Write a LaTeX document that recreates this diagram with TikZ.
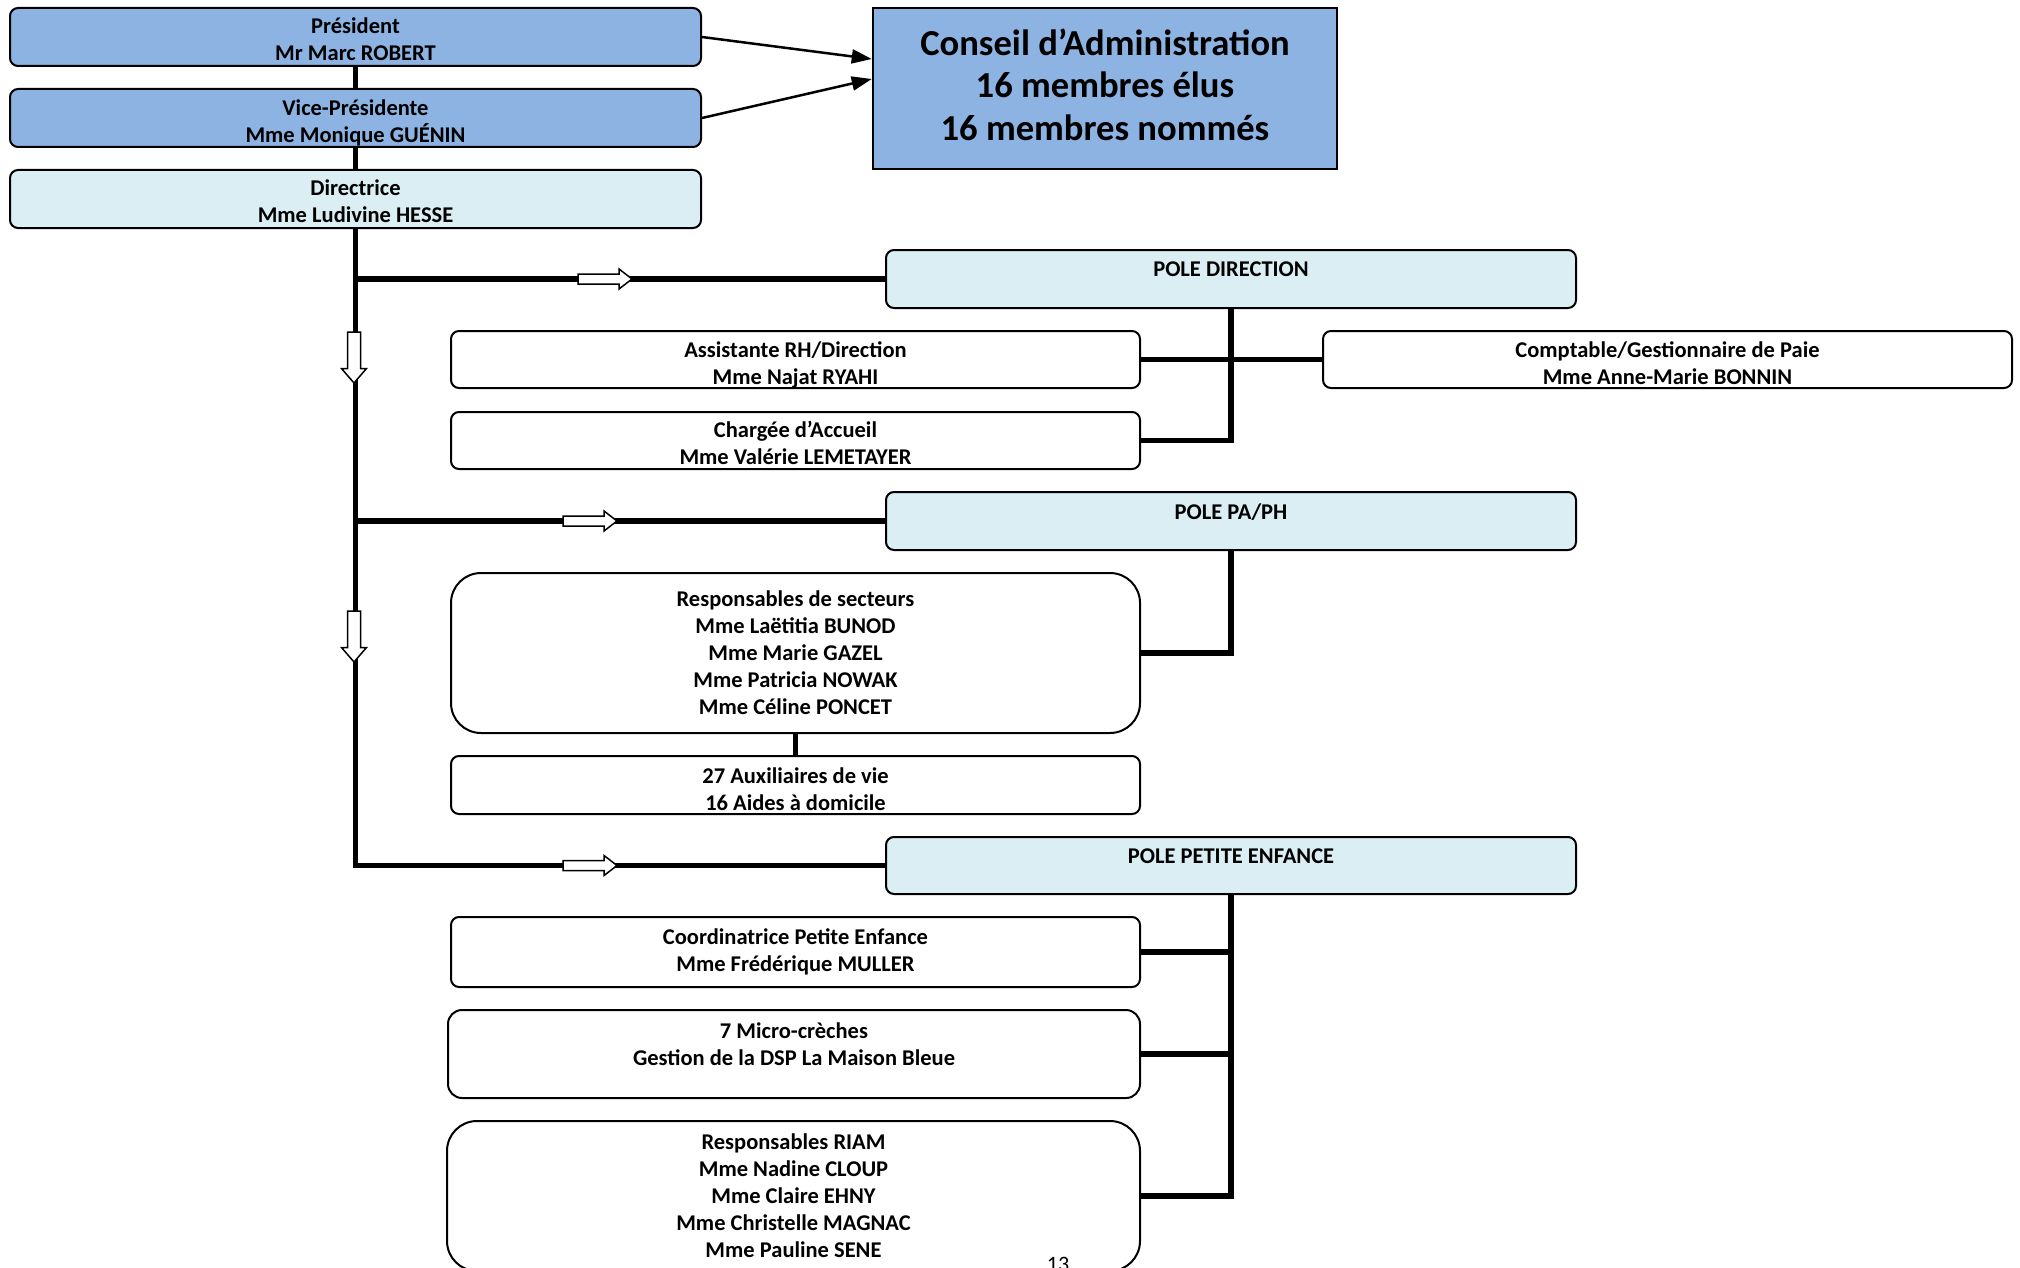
\documentclass[tikz,border=0pt]{standalone}
\usepackage{fontspec}
\setmainfont{Carlito}
\usetikzlibrary{arrows.meta,calc}
\definecolor{presblue}{RGB}{141,179,226}
\definecolor{paleblue}{RGB}{219,238,244}
\begin{document}
\begin{tikzpicture}[x=1pt,y=-1pt,
  box/.style={draw, line width=2pt, rounded corners=8pt, inner sep=0pt, align=center,
    font=\fontsize{22.5}{27}\selectfont\bfseries, minimum width=689pt, minimum height=58pt},
  topbox/.style={box, fill=presblue},
  polebox/.style={box, fill=paleblue, minimum width=690pt},
  poletext/.style={inner sep=0pt, font=\fontsize{22.5}{27}\selectfont\bfseries},
  boxtext/.style={inner sep=0pt, align=center, font=\fontsize{22.5}{27}\selectfont\bfseries},
  trunk/.style={line width=5.5pt},
  harrow/.pic={\draw[line width=1.5pt, fill=white, line join=miter]
    (-27,-5) -- (14,-5) -- (14,-10) -- (27,0) -- (14,10) -- (14,5) -- (-27,5) -- cycle;},
  varrow/.pic={\draw[line width=1.5pt, fill=white, line join=miter]
    (-6.5,-25.5) -- (6.5,-25.5) -- (6.5,11) -- (12.5,11) -- (0,25.5) -- (-12.5,11) -- (-6.5,11) -- cycle;}
]
\useasboundingbox (0,0) rectangle (2020,1268);

% top boxes
\node[topbox, minimum width=691pt] (pres) at (355.5,37) {};
\node[boxtext] (prest) at ([yshift=-2.5pt]pres.center) {Président\\Mr Marc ROBERT};
\node[topbox, minimum width=691pt] (vice) at (355.5,118) {};
\node[boxtext] (vicet) at ([yshift=-5pt]vice.center) {Vice-Présidente\\Mme Monique GUÉNIN};
\node[box, fill=paleblue, minimum width=691pt] (dir) at (355.5,199) {};
\node[boxtext] (dirt) at ([yshift=-2.5pt]dir.center) {Directrice\\Mme Ludivine HESSE};
\node[draw, line width=2.5pt, fill=presblue, inner sep=0pt, align=center,
  minimum width=464pt, minimum height=161pt,
  font=\fontsize{36.6}{42.5}\selectfont\bfseries,
  execute at end node={\rule[-8pt]{0pt}{0pt}}] (cons) at (1105,88.5)
  {Conseil d’Administration\\16 membres élus\\16 membres nommés};

% poles
\node[polebox] (pd) at (1231,279) {};
\node[poletext] (pdt) at ([yshift=-20.5pt]pd.north) {POLE DIRECTION};
\node[polebox] (pp) at (1231,521) {};
\node[poletext] (ppt) at ([yshift=-21.5pt]pp.north) {POLE PA/PH};
\node[polebox, minimum height=57pt] (ppe) at (1231,865.5) {};
\node[poletext] (ppet) at ([yshift=-20.5pt]ppe.north) {POLE PETITE ENFANCE};

% pole direction staff
\node[box, minimum height=57pt] (ar) at (795.5,359.5) {};
\node[boxtext] (art) at ([yshift=-5pt]ar.center) {Assistante RH/Direction\\Mme Najat RYAHI};
\node[box, minimum height=57pt] (ca) at (795.5,440.5) {};
\node[boxtext] (cat) at ([yshift=-2.5pt]ca.center) {Chargée d’Accueil\\Mme Valérie LEMETAYER};
\node[box, minimum height=57pt] (cg) at (1667.5,359.5) {};
\node[boxtext] (cgt) at ([yshift=-4pt]cg.center) {Comptable/Gestionnaire de Paie\\Mme Anne-Marie BONNIN};

% PA/PH staff
\node[box, rounded corners=30pt, minimum height=160pt] (rs) at (795.5,653)
  {Responsables de secteurs\\Mme Laëtitia BUNOD\\Mme Marie GAZEL\\Mme Patricia NOWAK\\Mme Céline PONCET};
\node[box] (aux) at (795.5,785) {};
\node[boxtext] (auxt) at ([yshift=-4pt]aux.center) {27 Auxiliaires de vie\\16 Aides à domicile};

% petite enfance staff
\node[box, minimum height=70pt] (coord) at (795.5,952) {Coordinatrice Petite Enfance\\Mme Frédérique MULLER};
\node[box, rounded corners=14pt, minimum width=692pt, minimum height=88pt] (micro) at (794,1054) {};
\node[boxtext] (microt) at ([yshift=9.5pt]micro.center) {7 Micro-crèches\\Gestion de la DSP La Maison Bleue};
\node[box, rounded corners=30pt, minimum width=693pt, minimum height=150pt] (riam) at (793.5,1196)
  {Responsables RIAM\\Mme Nadine CLOUP\\Mme Claire EHNY\\Mme Christelle MAGNAC\\Mme Pauline SENE};

% page number
\node[font=\fontsize{22}{26}\selectfont, anchor=base, inner sep=0pt] (pg) at (1058,1271) {13};

% arrows to conseil
\draw[line width=2.5pt, -{Triangle[length=20pt,width=14pt]}] (pres.east) -- ([yshift=29.5pt]cons.west);
\draw[line width=2.5pt, -{Triangle[length=20pt,width=14pt]}] (vice.east) -- ([yshift=9.5pt]cons.west);

% trunk
\draw[trunk] (pres.south) -- (vice.north);
\draw[trunk] (vice.south) -- (dir.north);
\draw[trunk] (dir.south) |- (ppe.west);
\draw[trunk] (dir.south |- pd.west) -- (pd.west);
\draw[trunk] (dir.south |- pp.west) -- (pp.west);

% pole direction connectors
\draw[trunk] (pd.south) |- (ca.east);
\draw[trunk] (ar.east) -- (cg.west);

% PA/PH connectors
\draw[trunk] (pp.south) |- (rs.east);
\draw[trunk] (rs.south) -- (aux.north);

% petite enfance connectors
\draw[trunk] (ppe.south) |- (riam.east);
\draw[trunk] (coord.east) -- (coord.east -| ppe.south);
\draw[trunk] (micro.east) -- (micro.east -| ppe.south);

% hollow arrows
\pic at (605,279) {harrow};
\pic at (590,521) {harrow};
\pic at (590,865.5) {harrow};
\pic at (354,357.5) {varrow};
\pic at (354,636.5) {varrow};
\end{tikzpicture}
\end{document}
